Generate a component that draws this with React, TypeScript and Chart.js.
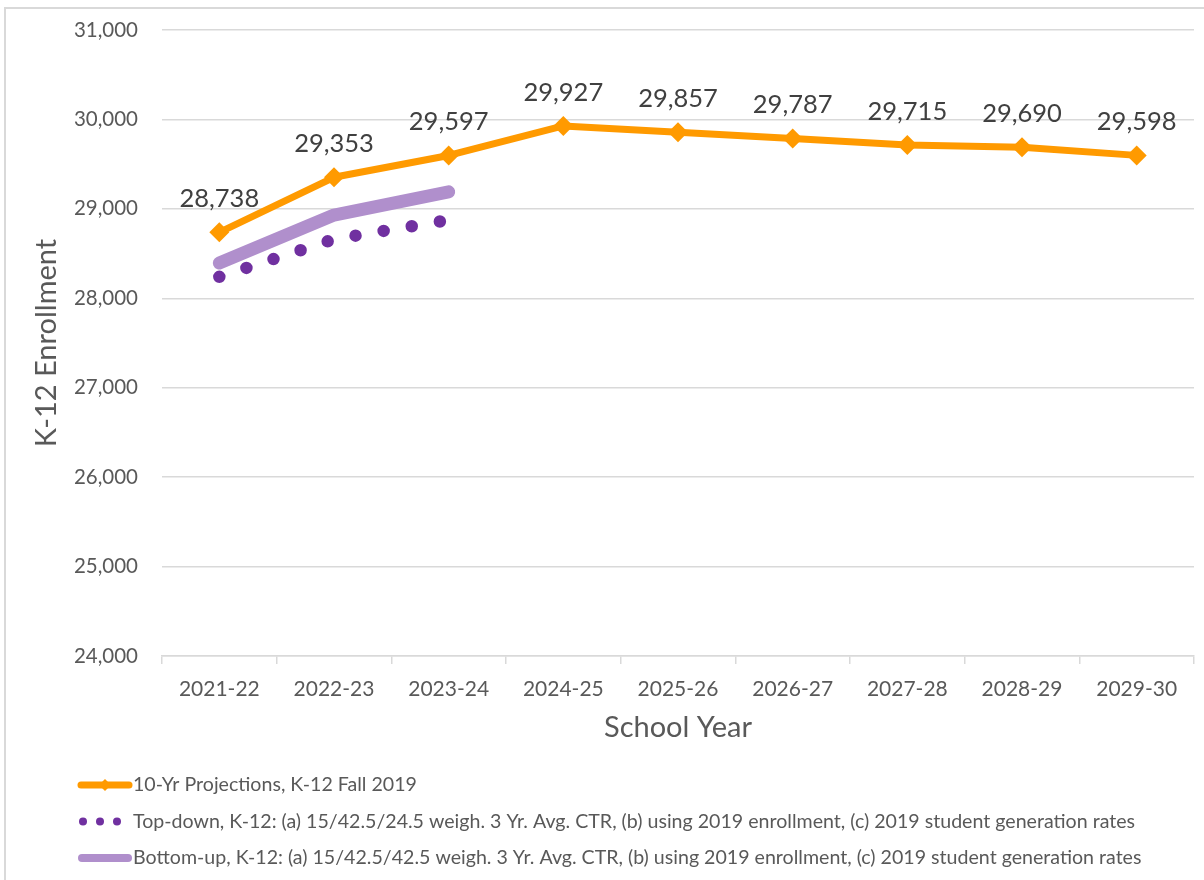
import React, { useEffect, useRef } from "react";
import { Chart, registerables } from "chart.js";

Chart.register(...registerables);

// ---------- data ----------
const categories = ["2021-22", "2022-23", "2023-24", "2024-25", "2025-26", "2026-27", "2027-28", "2028-29", "2029-30"];
const projections = [28738, 29353, 29597, 29927, 29857, 29787, 29715, 29690, 29598];
const topDown = [28240, 28660, 28875, null, null, null, null, null, null];
const bottomUp = [28395, 28930, 29190, null, null, null, null, null, null];
const seriesLabels = [
  "10-Yr Projections, K-12 Fall 2019",
  "Top-down, K-12: (a) 15/42.5/24.5 weigh. 3 Yr. Avg. CTR, (b) using 2019 enrollment, (c) 2019 student generation rates",
  "Bottom-up, K-12: (a) 15/42.5/42.5 weigh. 3 Yr. Avg. CTR, (b) using 2019 enrollment, (c) 2019 student generation rates",
];
const yMin = 24000;
const yMax = 31000;
const yStep = 1000;
const xTitle = "School Year";
const yTitle = "K-12 Enrollment";

// ---------- styles ----------
const FONT = "Lato, 'Open Sans', sans-serif";
const ORANGE = "#FF9A00";
const DARK_PURPLE = "#7030A0";
const LIGHT_PURPLE = "#B08FCC";
const AXIS_TEXT = "#595959";
const LABEL_TEXT = "#404040";
const GRID = "#D9D9D9";

const fmt = (v: number) => v.toLocaleString("en-US");

const framePlugin = {
  id: "frame",
  beforeDraw(chart: any) {
    const { ctx, width, height } = chart;
    ctx.save();
    ctx.fillStyle = "#ffffff";
    ctx.fillRect(0, 0, width, height);
    ctx.strokeStyle = GRID;
    ctx.lineWidth = 2;
    ctx.strokeRect(5, 8, width + 20, height + 20);
    ctx.restore();
  },
};

const valueLabelPlugin = {
  id: "valueLabels",
  afterDatasetsDraw(chart: any) {
    const { ctx } = chart;
    const meta = chart.getDatasetMeta(0);
    const data = chart.data.datasets[0].data as number[];
    ctx.save();
    ctx.font = `25.5px ${FONT}`;
    ctx.fillStyle = LABEL_TEXT;
    ctx.textAlign = "center";
    ctx.textBaseline = "alphabetic";
    meta.data.forEach((pt: any, i: number) => {
      ctx.fillText(fmt(data[i]), pt.x, pt.y - 25);
    });
    ctx.restore();
  },
};

const legendPlugin = {
  id: "customLegend",
  afterDraw(chart: any) {
    const { ctx } = chart;
    const xs = chart.scales.x;
    const startY = xs.bottom + 29;
    const rowGap = 36.5;
    const sx0 = 78;
    const sx1 = 132;
    const textX = 133;
    ctx.save();
    chart.data.datasets.forEach((ds: any, i: number) => {
      const y = startY + i * rowGap;
      if (i === 0) {
        ctx.strokeStyle = ds.borderColor;
        ctx.lineWidth = 7;
        ctx.lineCap = "round";
        ctx.beginPath();
        ctx.moveTo(sx0 + 3, y);
        ctx.lineTo(sx1 - 3, y);
        ctx.stroke();
        ctx.fillStyle = ds.pointBackgroundColor;
        ctx.beginPath();
        const cx = (sx0 + sx1) / 2;
        ctx.moveTo(cx, y - 6);
        ctx.lineTo(cx + 6, y);
        ctx.lineTo(cx, y + 6);
        ctx.lineTo(cx - 6, y);
        ctx.closePath();
        ctx.fill();
      } else if (i === 1) {
        ctx.fillStyle = ds.borderColor;
        [83, 100, 117].forEach((dx) => {
          ctx.beginPath();
          ctx.arc(dx, y, 4, 0, Math.PI * 2);
          ctx.fill();
        });
      } else {
        ctx.strokeStyle = ds.borderColor;
        ctx.lineWidth = 8;
        ctx.lineCap = "round";
        ctx.beginPath();
        ctx.moveTo(sx0 + 4, y);
        ctx.lineTo(sx1 - 4, y);
        ctx.stroke();
      }
      ctx.font = `19.6px ${FONT}`;
      ctx.fillStyle = AXIS_TEXT;
      ctx.textAlign = "left";
      ctx.textBaseline = "middle";
      ctx.fillText(ds.label, textX, y);
    });
    ctx.restore();
  },
};

export default function App() {
  const ref = useRef<HTMLCanvasElement>(null);

  useEffect(() => {
    let chart: Chart | null = null;
    let cancelled = false;
    const make = () => {
      if (cancelled || !ref.current) return;
      chart = new Chart(ref.current, {
        type: "line",
        data: {
          labels: categories,
          datasets: [
            {
              label: seriesLabels[0],
              data: projections,
              borderColor: ORANGE,
              backgroundColor: ORANGE,
              pointBackgroundColor: ORANGE,
              pointBorderWidth: 0,
              borderWidth: 7,
              pointStyle: "rectRot",
              pointRadius: 10,
              pointHoverRadius: 10,
              borderJoinStyle: "round",
              tension: 0,
              fill: false,
              clip: false,
            },
            {
              label: seriesLabels[1],
              data: topDown,
              borderColor: DARK_PURPLE,
              backgroundColor: DARK_PURPLE,
              borderWidth: 12.5,
              borderDash: [0, 28.5],
              borderCapStyle: "round",
              pointRadius: 0,
              pointHoverRadius: 0,
              tension: 0,
              fill: false,
              spanGaps: false,
              clip: false,
            },
            {
              label: seriesLabels[2],
              data: bottomUp,
              borderColor: LIGHT_PURPLE,
              backgroundColor: LIGHT_PURPLE,
              borderWidth: 13,
              borderCapStyle: "round",
              borderJoinStyle: "round",
              pointRadius: 0,
              pointHoverRadius: 0,
              tension: 0,
              fill: false,
              clip: false,
            },
          ],
        },
        options: {
          responsive: false,
          animation: false,
          events: [],
          layout: { autoPadding: false, padding: { top: 30, right: 10, bottom: 124, left: 0 } },
          plugins: {
            legend: { display: false },
            tooltip: { enabled: false },
            title: { display: false },
          },
          scales: {
            x: {
              type: "category",
              offset: true,
              grid: {
                offset: true,
                drawOnChartArea: false,
                drawTicks: true,
                tickLength: 8,
                color: GRID,
                lineWidth: 1.5,
              },
              border: { display: true, color: GRID, width: 1.5 },
              ticks: {
                color: AXIS_TEXT,
                font: { family: FONT, size: 21 },
                padding: 13,
                maxRotation: 0,
                autoSkip: false,
              },
              title: {
                display: true,
                text: xTitle,
                color: AXIS_TEXT,
                font: { family: FONT, size: 29 },
                padding: { top: 0, bottom: 11 },
              },
              afterFit: (s: any) => {
                s.height = 100;
              },
            },
            y: {
              min: yMin,
              max: yMax,
              ticks: {
                stepSize: yStep,
                color: AXIS_TEXT,
                font: { family: FONT, size: 20.5 },
                padding: 4,
                callback: (v: any) => fmt(Number(v)),
              },
              grid: {
                color: GRID,
                lineWidth: 1.5,
                drawTicks: true,
                tickLength: 20,
                tickColor: "rgba(0,0,0,0)",
              },
              border: { display: false },
              title: {
                display: true,
                text: yTitle,
                color: AXIS_TEXT,
                font: { family: FONT, size: 29 },
                padding: { top: 29, bottom: 0 },
              },
              afterFit: (s: any) => {
                s.width = 162;
              },
            },
          },
        },
        plugins: [framePlugin, valueLabelPlugin, legendPlugin],
      } as any);
    };
    const fonts: any = (document as any).fonts;
    if (fonts && fonts.load) {
      Promise.all([fonts.load(`20px Lato`), fonts.load(`26px Lato`)]).then(make, make);
    } else {
      make();
    }
    return () => {
      cancelled = true;
      if (chart) chart.destroy();
    };
  }, []);

  return (
    <div style={{ position: "absolute", left: 0, top: 0, width: 1204, height: 880, background: "#fff" }}>
      <canvas ref={ref} width={1204} height={880} style={{ display: "block", width: 1204, height: 880 }} />
    </div>
  );
}
